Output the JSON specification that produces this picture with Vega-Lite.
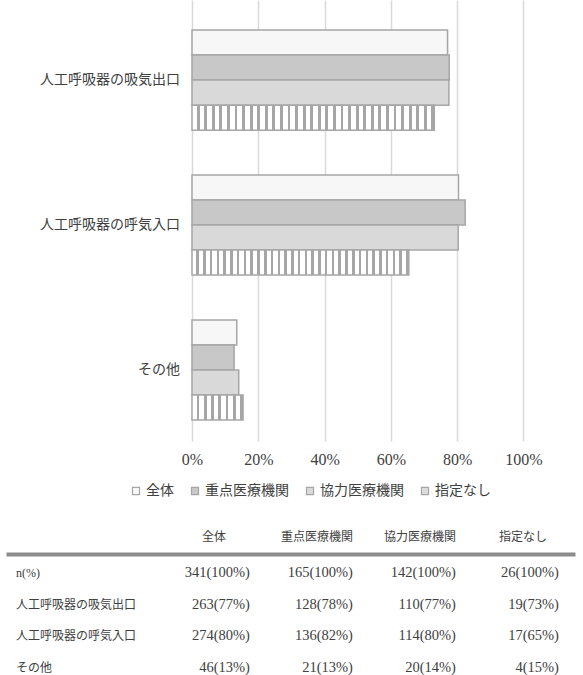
{
  "$schema": "https://vega.github.io/schema/vega-lite/v6.json",
  "padding": {"left": 6, "right": 8, "top": 0, "bottom": 0},
  "spacing": 32,
  "resolve": {"legend": {"fill": "independent"}},
  "config": {
    "view": {"stroke": null},
    "axis": {"labelColor": "#404040"},
    "text": {"color": "#404040"}
  },
  "datasets": {
    "bars": [
      {"item": "人工呼吸器の吸気出口", "series": "全体", "pct": 77.1},
      {"item": "人工呼吸器の吸気出口", "series": "重点医療機関", "pct": 77.6},
      {"item": "人工呼吸器の吸気出口", "series": "協力医療機関", "pct": 77.5},
      {"item": "人工呼吸器の吸気出口", "series": "指定なし", "pct": 73.1},
      {"item": "人工呼吸器の呼気入口", "series": "全体", "pct": 80.4},
      {"item": "人工呼吸器の呼気入口", "series": "重点医療機関", "pct": 82.4},
      {"item": "人工呼吸器の呼気入口", "series": "協力医療機関", "pct": 80.3},
      {"item": "人工呼吸器の呼気入口", "series": "指定なし", "pct": 65.4},
      {"item": "その他", "series": "全体", "pct": 13.5},
      {"item": "その他", "series": "重点医療機関", "pct": 12.7},
      {"item": "その他", "series": "協力医療機関", "pct": 14.1},
      {"item": "その他", "series": "指定なし", "pct": 15.4}
    ],
    "table": [
      {"row": "n(%)", "col": "label", "txt": "n(%)"},
      {"row": "n(%)", "col": "全体", "txt": "341(100%)"},
      {"row": "n(%)", "col": "重点医療機関", "txt": "165(100%)"},
      {"row": "n(%)", "col": "協力医療機関", "txt": "142(100%)"},
      {"row": "n(%)", "col": "指定なし", "txt": "26(100%)"},
      {"row": "人工呼吸器の吸気出口", "col": "label", "txt": "人工呼吸器の吸気出口"},
      {"row": "人工呼吸器の吸気出口", "col": "全体", "txt": "263(77%)"},
      {"row": "人工呼吸器の吸気出口", "col": "重点医療機関", "txt": "128(78%)"},
      {"row": "人工呼吸器の吸気出口", "col": "協力医療機関", "txt": "110(77%)"},
      {"row": "人工呼吸器の吸気出口", "col": "指定なし", "txt": "19(73%)"},
      {"row": "人工呼吸器の呼気入口", "col": "label", "txt": "人工呼吸器の呼気入口"},
      {"row": "人工呼吸器の呼気入口", "col": "全体", "txt": "274(80%)"},
      {"row": "人工呼吸器の呼気入口", "col": "重点医療機関", "txt": "136(82%)"},
      {"row": "人工呼吸器の呼気入口", "col": "協力医療機関", "txt": "114(80%)"},
      {"row": "人工呼吸器の呼気入口", "col": "指定なし", "txt": "17(65%)"},
      {"row": "その他", "col": "label", "txt": "その他"},
      {"row": "その他", "col": "全体", "txt": "46(13%)"},
      {"row": "その他", "col": "重点医療機関", "txt": "21(13%)"},
      {"row": "その他", "col": "協力医療機関", "txt": "20(14%)"},
      {"row": "その他", "col": "指定なし", "txt": "4(15%)"}
    ]
  },
  "vconcat": [
    {
      "width": 569,
      "height": 441,
      "data": {"name": "bars"},
      "encoding": {
        "y": {
          "field": "item", "type": "nominal",
          "sort": ["人工呼吸器の吸気出口", "人工呼吸器の呼気入口", "その他"],
          "scale": {"type": "band", "paddingInner": 0.31, "paddingOuter": 0.176, "align": 0.59},
          "axis": null
        }
      },
      "layer": [
        {
          "mark": {"type": "bar", "stroke": "#a6a6a6", "strokeWidth": 1.5},
          "encoding": {
            "yOffset": {
              "field": "series", "type": "nominal",
              "sort": ["全体", "重点医療機関", "協力医療機関", "指定なし"],
              "scale": {"paddingInner": 0, "paddingOuter": 0}
            },
            "x": {
              "field": "pct", "type": "quantitative",
              "scale": {"domain": [-56.11, 115.54], "nice": false, "zero": false},
              "axis": {"title": null, "values": [0, 20, 40, 60, 80, 100], "labelExpr": "datum.value + '%'",
                       "domain": false, "ticks": false, "gridColor": "#d9d9d9", "gridWidth": 1.5,
                       "labelFont": "Liberation Serif", "labelFontSize": 16, "labelPadding": 10,
                       "labelFlush": false, "labelColor": "#404040"}
            },
            "fill": {
              "field": "series", "type": "nominal",
              "scale": {"domain": ["全体", "重点医療機関", "協力医療機関", "指定なし"],
                        "range": ["#f7f7f7", "#c8c8c8", "#d9d9d9", "#dcdcdc"]},
              "legend": {"orient": "none", "legendX": 123, "legendY": 484, "direction": "horizontal", "title": null,
                         "symbolType": "square", "symbolSize": 50, "symbolStrokeColor": "#a6a6a6",
                         "symbolStrokeWidth": 1.2, "labelFont": "Noto Sans CJK JP", "labelFontSize": 14,
                         "labelColor": "#404040", "columnPadding": 14, "labelOffset": 3},
              "condition": [
                {"test": "datum.series === '指定なし' && datum.pct > 50", "value": {
                  "gradient": "linear", "x1": 0, "y1": 0, "x2": 1, "y2": 0,
                  "stops": [
                    {"offset": 0, "color": "#fff"}, {"offset": 0.0194, "color": "#fff"}, {"offset": 0.0194, "color": "#a6a6a6"}, {"offset": 0.0313, "color": "#a6a6a6"},
                    {"offset": 0.0313, "color": "#fff"}, {"offset": 0.0506, "color": "#fff"}, {"offset": 0.0506, "color": "#a6a6a6"}, {"offset": 0.0625, "color": "#a6a6a6"},
                    {"offset": 0.0625, "color": "#fff"}, {"offset": 0.0819, "color": "#fff"}, {"offset": 0.0819, "color": "#a6a6a6"}, {"offset": 0.0938, "color": "#a6a6a6"},
                    {"offset": 0.0938, "color": "#fff"}, {"offset": 0.1131, "color": "#fff"}, {"offset": 0.1131, "color": "#a6a6a6"}, {"offset": 0.125, "color": "#a6a6a6"},
                    {"offset": 0.125, "color": "#fff"}, {"offset": 0.1444, "color": "#fff"}, {"offset": 0.1444, "color": "#a6a6a6"}, {"offset": 0.1563, "color": "#a6a6a6"},
                    {"offset": 0.1563, "color": "#fff"}, {"offset": 0.1756, "color": "#fff"}, {"offset": 0.1756, "color": "#a6a6a6"}, {"offset": 0.1875, "color": "#a6a6a6"},
                    {"offset": 0.1875, "color": "#fff"}, {"offset": 0.2069, "color": "#fff"}, {"offset": 0.2069, "color": "#a6a6a6"}, {"offset": 0.2188, "color": "#a6a6a6"},
                    {"offset": 0.2188, "color": "#fff"}, {"offset": 0.2381, "color": "#fff"}, {"offset": 0.2381, "color": "#a6a6a6"}, {"offset": 0.25, "color": "#a6a6a6"},
                    {"offset": 0.25, "color": "#fff"}, {"offset": 0.2694, "color": "#fff"}, {"offset": 0.2694, "color": "#a6a6a6"}, {"offset": 0.2813, "color": "#a6a6a6"},
                    {"offset": 0.2813, "color": "#fff"}, {"offset": 0.3006, "color": "#fff"}, {"offset": 0.3006, "color": "#a6a6a6"}, {"offset": 0.3125, "color": "#a6a6a6"},
                    {"offset": 0.3125, "color": "#fff"}, {"offset": 0.3319, "color": "#fff"}, {"offset": 0.3319, "color": "#a6a6a6"}, {"offset": 0.3438, "color": "#a6a6a6"},
                    {"offset": 0.3438, "color": "#fff"}, {"offset": 0.3631, "color": "#fff"}, {"offset": 0.3631, "color": "#a6a6a6"}, {"offset": 0.375, "color": "#a6a6a6"},
                    {"offset": 0.375, "color": "#fff"}, {"offset": 0.3944, "color": "#fff"}, {"offset": 0.3944, "color": "#a6a6a6"}, {"offset": 0.4063, "color": "#a6a6a6"},
                    {"offset": 0.4063, "color": "#fff"}, {"offset": 0.4256, "color": "#fff"}, {"offset": 0.4256, "color": "#a6a6a6"}, {"offset": 0.4375, "color": "#a6a6a6"},
                    {"offset": 0.4375, "color": "#fff"}, {"offset": 0.4569, "color": "#fff"}, {"offset": 0.4569, "color": "#a6a6a6"}, {"offset": 0.4688, "color": "#a6a6a6"},
                    {"offset": 0.4688, "color": "#fff"}, {"offset": 0.4881, "color": "#fff"}, {"offset": 0.4881, "color": "#a6a6a6"}, {"offset": 0.5, "color": "#a6a6a6"},
                    {"offset": 0.5, "color": "#fff"}, {"offset": 0.5194, "color": "#fff"}, {"offset": 0.5194, "color": "#a6a6a6"}, {"offset": 0.5313, "color": "#a6a6a6"},
                    {"offset": 0.5313, "color": "#fff"}, {"offset": 0.5506, "color": "#fff"}, {"offset": 0.5506, "color": "#a6a6a6"}, {"offset": 0.5625, "color": "#a6a6a6"},
                    {"offset": 0.5625, "color": "#fff"}, {"offset": 0.5819, "color": "#fff"}, {"offset": 0.5819, "color": "#a6a6a6"}, {"offset": 0.5938, "color": "#a6a6a6"},
                    {"offset": 0.5938, "color": "#fff"}, {"offset": 0.6131, "color": "#fff"}, {"offset": 0.6131, "color": "#a6a6a6"}, {"offset": 0.625, "color": "#a6a6a6"},
                    {"offset": 0.625, "color": "#fff"}, {"offset": 0.6444, "color": "#fff"}, {"offset": 0.6444, "color": "#a6a6a6"}, {"offset": 0.6563, "color": "#a6a6a6"},
                    {"offset": 0.6563, "color": "#fff"}, {"offset": 0.6756, "color": "#fff"}, {"offset": 0.6756, "color": "#a6a6a6"}, {"offset": 0.6875, "color": "#a6a6a6"},
                    {"offset": 0.6875, "color": "#fff"}, {"offset": 0.7069, "color": "#fff"}, {"offset": 0.7069, "color": "#a6a6a6"}, {"offset": 0.7188, "color": "#a6a6a6"},
                    {"offset": 0.7188, "color": "#fff"}, {"offset": 0.7381, "color": "#fff"}, {"offset": 0.7381, "color": "#a6a6a6"}, {"offset": 0.75, "color": "#a6a6a6"},
                    {"offset": 0.75, "color": "#fff"}, {"offset": 0.7694, "color": "#fff"}, {"offset": 0.7694, "color": "#a6a6a6"}, {"offset": 0.7813, "color": "#a6a6a6"},
                    {"offset": 0.7813, "color": "#fff"}, {"offset": 0.8006, "color": "#fff"}, {"offset": 0.8006, "color": "#a6a6a6"}, {"offset": 0.8125, "color": "#a6a6a6"},
                    {"offset": 0.8125, "color": "#fff"}, {"offset": 0.8319, "color": "#fff"}, {"offset": 0.8319, "color": "#a6a6a6"}, {"offset": 0.8438, "color": "#a6a6a6"},
                    {"offset": 0.8438, "color": "#fff"}, {"offset": 0.8631, "color": "#fff"}, {"offset": 0.8631, "color": "#a6a6a6"}, {"offset": 0.875, "color": "#a6a6a6"},
                    {"offset": 0.875, "color": "#fff"}, {"offset": 0.8944, "color": "#fff"}, {"offset": 0.8944, "color": "#a6a6a6"}, {"offset": 0.9063, "color": "#a6a6a6"},
                    {"offset": 0.9063, "color": "#fff"}, {"offset": 0.9256, "color": "#fff"}, {"offset": 0.9256, "color": "#a6a6a6"}, {"offset": 0.9375, "color": "#a6a6a6"},
                    {"offset": 0.9375, "color": "#fff"}, {"offset": 0.9569, "color": "#fff"}, {"offset": 0.9569, "color": "#a6a6a6"}, {"offset": 0.9688, "color": "#a6a6a6"},
                    {"offset": 0.9688, "color": "#fff"}, {"offset": 0.9881, "color": "#fff"}, {"offset": 0.9881, "color": "#a6a6a6"}, {"offset": 1, "color": "#a6a6a6"}
                  ]}},
                {"test": "datum.series === '指定なし'", "value": {
                  "gradient": "linear", "x1": 0, "y1": 0, "x2": 1, "y2": 0,
                  "stops": [
                    {"offset": 0, "color": "#fff"}, {"offset": 0.0886, "color": "#fff"}, {"offset": 0.0886, "color": "#a6a6a6"}, {"offset": 0.1429, "color": "#a6a6a6"},
                    {"offset": 0.1429, "color": "#fff"}, {"offset": 0.2314, "color": "#fff"}, {"offset": 0.2314, "color": "#a6a6a6"}, {"offset": 0.2857, "color": "#a6a6a6"},
                    {"offset": 0.2857, "color": "#fff"}, {"offset": 0.3743, "color": "#fff"}, {"offset": 0.3743, "color": "#a6a6a6"}, {"offset": 0.4286, "color": "#a6a6a6"},
                    {"offset": 0.4286, "color": "#fff"}, {"offset": 0.5171, "color": "#fff"}, {"offset": 0.5171, "color": "#a6a6a6"}, {"offset": 0.5714, "color": "#a6a6a6"},
                    {"offset": 0.5714, "color": "#fff"}, {"offset": 0.66, "color": "#fff"}, {"offset": 0.66, "color": "#a6a6a6"}, {"offset": 0.7143, "color": "#a6a6a6"},
                    {"offset": 0.7143, "color": "#fff"}, {"offset": 0.8029, "color": "#fff"}, {"offset": 0.8029, "color": "#a6a6a6"}, {"offset": 0.8571, "color": "#a6a6a6"},
                    {"offset": 0.8571, "color": "#fff"}, {"offset": 0.9457, "color": "#fff"}, {"offset": 0.9457, "color": "#a6a6a6"}, {"offset": 1, "color": "#a6a6a6"}
                  ]}}
              ]
            }
          }
        },
        {
          "transform": [{"filter": "datum.series === '全体'"}],
          "mark": {"type": "text", "align": "right", "baseline": "middle", "dx": -12,
                   "font": "Noto Sans CJK JP", "fontSize": 14, "color": "#404040"},
          "encoding": {
            "x": {"datum": 0, "type": "quantitative"},
            "text": {"field": "item"}
          }
        }
      ]
    },
    {
      "width": 569,
      "height": 121,
      "data": {"name": "table"},
      "encoding": {
        "x": {
          "field": "col", "type": "nominal",
          "scale": {"type": "band", "domain": ["label", "全体", "重点医療機関", "協力医療機関", "指定なし"],
                    "paddingInner": 0, "paddingOuter": 0.262, "align": 0.99},
          "axis": {"orient": "top", "title": null, "ticks": false, "domainWidth": 4, "domainColor": "#8c8c8c",
                   "labelAngle": 0, "labelFont": "Noto Sans CJK JP", "labelFontSize": 12, "labelColor": "#404040",
                   "labelPadding": 11, "labelExpr": "datum.value === 'label' ? '' : datum.value"}
        },
        "y": {
          "field": "row", "type": "nominal",
          "sort": ["n(%)", "人工呼吸器の吸気出口", "人工呼吸器の呼気入口", "その他"],
          "scale": {"type": "point", "padding": 0.41, "align": 0.5},
          "axis": null
        },
        "text": {"field": "txt"}
      },
      "layer": [
        {
          "transform": [{"filter": "datum.col === 'label'"}],
          "mark": {"type": "text", "align": "left", "baseline": "middle", "dx": -95, "dy": 6,
                   "font": "Liberation Serif, Noto Sans CJK JP", "fontSize": 12, "color": "#404040"}
        },
        {
          "transform": [{"filter": "datum.col !== 'label'"}],
          "mark": {"type": "text", "align": "right", "baseline": "middle", "dx": 36, "dy": 6,
                   "font": "Liberation Serif", "fontSize": 14.5, "color": "#404040"}
        }
      ]
    }
  ]
}
